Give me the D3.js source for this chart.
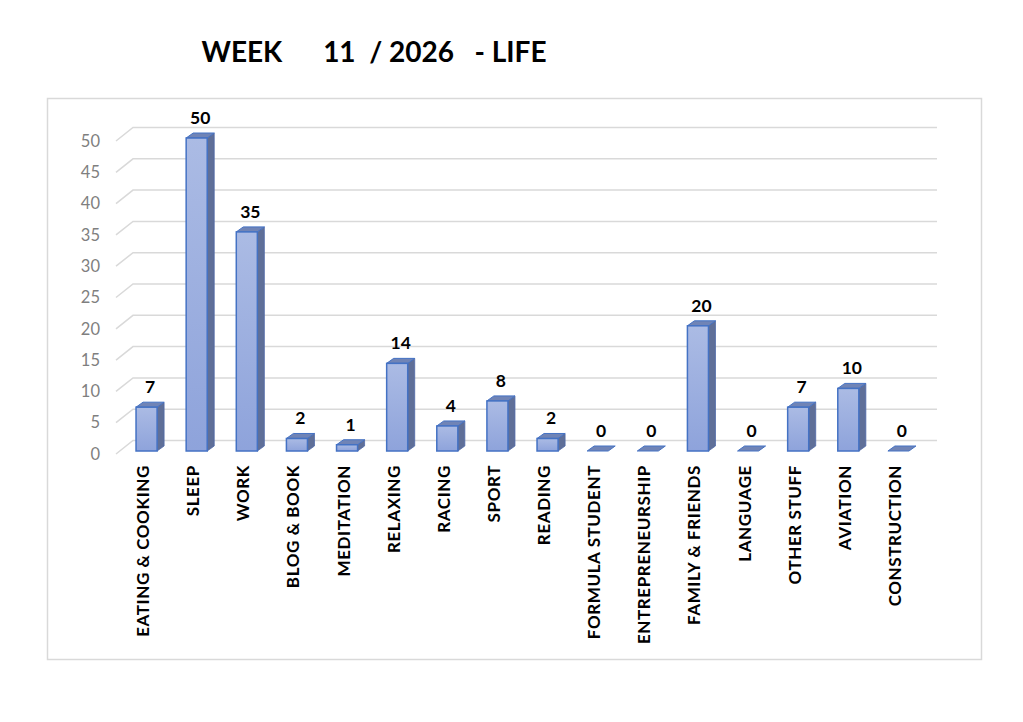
<!DOCTYPE html>
<html><head><meta charset="utf-8">
<script src="https://cdn.jsdelivr.net/npm/d3@7"></script>
<style>
html,body{margin:0;padding:0;background:#fff;}
svg{display:block;}
</style></head>
<body>
<svg id="chart" width="1023" height="722"></svg>
<script>
const categories = ["EATING & COOKING","SLEEP","WORK","BLOG & BOOK","MEDITATION","RELAXING","RACING","SPORT","READING","FORMULA STUDENT","ENTREPRENEURSHIP","FAMILY & FRIENDS","LANGUAGE","OTHER STUFF","AVIATION","CONSTRUCTION"];
const values = [7,50,35,2,1,14,4,8,2,0,0,20,0,7,10,0];
const yTicks = [0,5,10,15,20,25,30,35,40,45,50];
const titleText = "WEEK      11  / 2026   - LIFE";

const svg = d3.select("#chart");
const font = "Lato, 'Open Sans', sans-serif";

// frame
svg.append("rect").attr("x",47.5).attr("y",98.5).attr("width",934).attr("height",561)
  .attr("fill","#fff").attr("stroke","#d9d9d9").attr("stroke-width",1.5);

// title
svg.append("text").attr("x",374).attr("y",62).attr("text-anchor","middle")
  .attr("font-family",font).attr("font-weight","bold").attr("font-size",28)
  .style("white-space","pre").attr("fill","#000").text(titleText);

const x = d3.scaleBand().domain(categories).range([121.5,923.5]).paddingInner(0.58).paddingOuter(0.29);
const yFront = d3.scaleLinear().domain([0,50]).range([451,138]);
const yBack = d3.scaleLinear().domain([0,50]).range([440.5,127.5]);
const yLab = d3.scaleLinear().domain([0,50]).range([454,141]);
const dx = 7, dy = -5;

// gridlines (3D wall + floor edge)
const grid = svg.append("g");
yTicks.forEach(v=>{
  grid.append("path")
    .attr("d",`M116,${yLab(v)}L133,${yBack(v)}L937,${yBack(v)}`)
    .attr("fill","none").attr("stroke","#d9d9d9").attr("stroke-width",1.5);
});

// y axis labels
const yAxis = d3.axisLeft(yLab).tickValues(yTicks).tickSize(0).tickPadding(0);
const ya = svg.append("g").attr("transform","translate(100,0)").call(yAxis);
ya.select(".domain").remove();
ya.selectAll("text").attr("font-family",font).attr("font-size",16.5).attr("fill","#7f7f7f");

// gradient
const defs = svg.append("defs");
const grad = defs.append("linearGradient").attr("id","barGrad").attr("x1","0").attr("y1","0").attr("x2","0").attr("y2","1");
grad.append("stop").attr("offset","0%").attr("stop-color","#abbbe4");
grad.append("stop").attr("offset","100%").attr("stop-color","#8ea3db");

const data = categories.map((c,i)=>({c, v: values[i]}));
const bars = svg.append("g");
data.forEach(d=>{
  const x0 = x(d.c), x1 = x0 + x.bandwidth();
  const yt = yFront(d.v), yb = yFront(0);
  const g = bars.append("g");
  if (d.v > 0) {
    g.append("path").attr("d",`M${x1},${yt}L${x1+dx},${yt+dy}L${x1+dx},${yb+dy}L${x1},${yb}Z`)
      .attr("fill","#5f6f98").attr("stroke","#4f6aa8").attr("stroke-width",0.8);
  }
  g.append("path").attr("d",`M${x0},${yt}L${x0+dx},${yt+dy}L${x1+dx},${yt+dy}L${x1},${yt}Z`)
    .attr("fill","#7084b6").attr("stroke","#4472c4").attr("stroke-width",1);
  if (d.v > 0) {
    g.append("rect").attr("x",x0).attr("y",yt).attr("width",x.bandwidth()).attr("height",yb-yt)
      .attr("fill","url(#barGrad)").attr("stroke","#4472c4").attr("stroke-width",1.5);
  }
  svg.append("text").attr("x",x0 + x.bandwidth()/2 + 3.5).attr("y",yt - 14)
    .attr("text-anchor","middle").attr("font-family",font).attr("font-weight","bold")
    .attr("font-size",17.5).attr("fill","#000").text(d.v);
});

// category labels
data.forEach(d=>{
  const cx = x(d.c) + x.bandwidth()/2 - 3.5;
  svg.append("text").attr("transform",`translate(${cx},465) rotate(-90)`)
    .attr("text-anchor","end").attr("dy","0.35em")
    .attr("font-family",font).attr("font-weight","bold").attr("font-size",17)
    .attr("letter-spacing","0.6px")
    .attr("fill","#000").text(d.c);
});
</script>
</body></html>
